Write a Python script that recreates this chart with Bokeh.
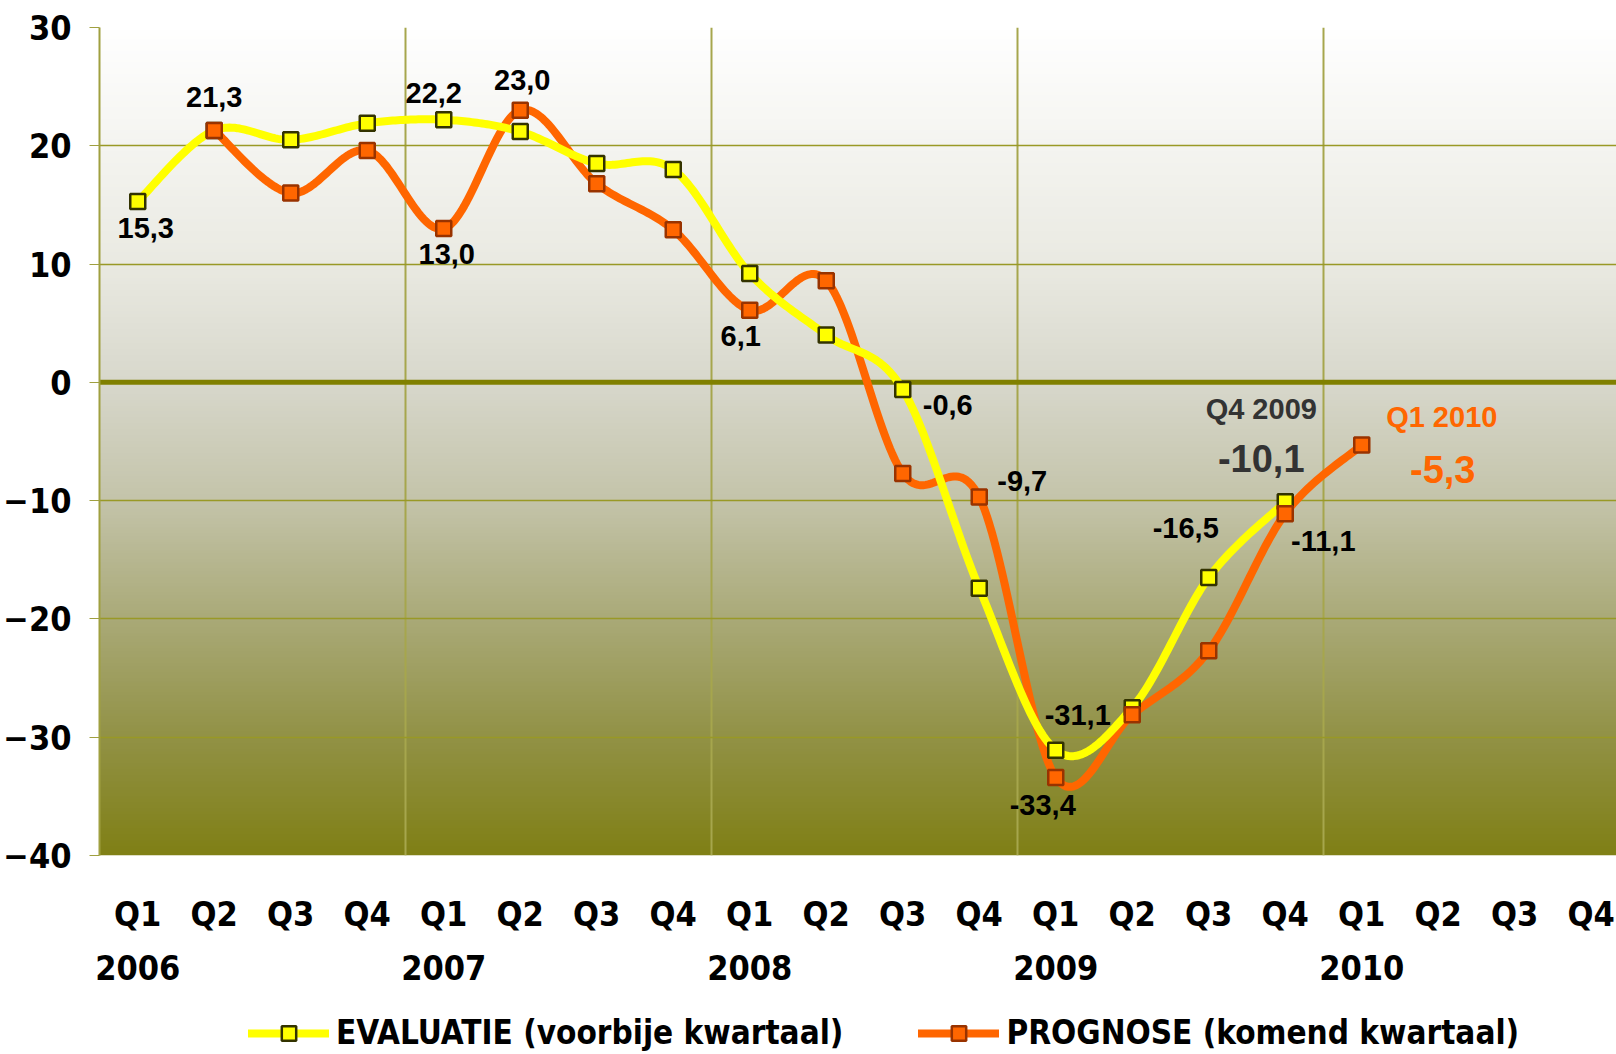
import numpy as np
from bokeh.plotting import figure
from bokeh.layouts import column
from bokeh.models import (Range1d, LinearAxis, FixedTicker, Legend, LegendItem,
                          ColumnDataSource, Span)
from bokeh.embed import file_html
from bokeh.resources import INLINE
from bokeh.core.properties import value

# ---------------- data ----------------
years = ["2006", "2007", "2008", "2009", "2010"]
quarters = ["Q1", "Q2", "Q3", "Q4"]
# EVALUATIE (voorbije kwartaal): Q1 2006 .. Q4 2009
evaluatie = [15.3, 21.3, 20.5, 21.9, 22.2, 21.2, 18.5, 18.0,
             9.2, 4.0, -0.6, -17.4, -31.1, -27.5, -16.5, -10.1]
evaluatie_start = 0
# PROGNOSE (komend kwartaal): Q2 2006 .. Q1 2010
prognose = [21.3, 16.0, 19.6, 13.0, 23.0, 16.8, 12.9, 6.1,
            8.6, -7.7, -9.7, -33.4, -28.1, -22.7, -11.1, -5.3]
prognose_start = 1
y_ticks = [-40, -30, -20, -10, 0, 10, 20, 30]
series_names = ["EVALUATIE (voorbije kwartaal)", "PROGNOSE (komend kwartaal)"]

# labelled points: (index in series, x offset px, y offset px)
eval_labels = [(0, 8, 27), (1, 0, -33), (4, -10, -27), (10, 45, 16), (12, 22, -35), (14, -23, -50)]
prog_labels = [(3, 3, 25), (4, 2, -30), (7, -9, 26), (10, 43, -16), (11, -13, 28), (14, 38, 27)]

OLIVE = "#808000"
GRID = "#999926"
YELLOW = "#FFFF00"
ORANGE = "#FF6600"
AXFONT = "DejaVu Sans Condensed"
AXSIZE = "34px"
LBLFONT = "Liberation Sans"
LBLSIZE = "29px"

n_cat = len(years) * len(quarters)
cat_labels = [q for y in years for q in quarters]
centers = [i + 0.5 for i in range(n_cat)]

def fmt(v):
    return f"{v:.1f}".replace(".", ",")

def smooth(xs, ys, n=30):
    P = np.column_stack([xs, ys]).astype(float)
    P = np.vstack([P[0], P, P[-1]])
    segs = []
    t = np.linspace(0, 1, n, endpoint=False)[:, None]
    for i in range(1, len(P) - 2):
        p0, p1, p2, p3 = P[i - 1], P[i], P[i + 1], P[i + 2]
        pts = 0.5 * (2 * p1 + (-p0 + p2) * t + (2 * p0 - 5 * p1 + 4 * p2 - p3) * t ** 2
                     + (-p0 + 3 * p1 - 3 * p2 + p3) * t ** 3)
        segs.append(pts)
    segs.append(P[-2][None, :])
    out = np.vstack(segs)
    return out[:, 0], out[:, 1]

ex = [centers[evaluatie_start + i] for i in range(len(evaluatie))]
px = [centers[prognose_start + i] for i in range(len(prognose))]
esx, esy = smooth(ex, evaluatie)
psx, psy = smooth(px, prognose)

# the last category runs slightly past the right edge of the picture
X_END = 19.83
MAIN_H = 1010
LEG_H = 44

p = figure(width=1616, height=MAIN_H, output_backend="svg", toolbar_location=None,
           x_range=Range1d(0, X_END), y_range=Range1d(-40, 30),
           min_border_left=98, min_border_right=0, min_border_top=27, min_border_bottom=155)
p.outline_line_color = None
p.background_fill_color = "white"
p.border_fill_color = "white"

# gradient background of the plot area
stops_v = [-40, -30, -20, -10, 0, 10, 30]
stops_c = [(128, 128, 22), (146, 146, 70), (170, 170, 120), (196, 196, 170),
           (216, 216, 204), (234, 234, 226), (255, 255, 255)]
N = 280
vv = np.linspace(-40, 30, N)
img = np.empty((N, 2), dtype=np.uint32)
view = img.view(dtype=np.uint8).reshape((N, 2, 4))
for k in range(3):
    ch = np.interp(vv, stops_v, [c[k] for c in stops_c])
    view[:, :, k] = ch[:, None].astype(np.uint8)
view[:, :, 3] = 255
p.image_rgba(image=[img], x=0, y=-40, dw=n_cat, dh=70, level="image")

# grids
p.ygrid.ticker = FixedTicker(ticks=y_ticks)
p.ygrid.grid_line_color = GRID
p.ygrid.grid_line_width = 1.5
p.xgrid.ticker = FixedTicker(ticks=[4, 8, 12, 16])
p.xgrid.grid_line_color = "#A6A64D"
p.xgrid.grid_line_width = 2

zero = Span(location=0, dimension="width", line_color=OLIVE, line_width=5, level="underlay")
p.add_layout(zero)

# y axis
p.yaxis.ticker = FixedTicker(ticks=y_ticks)
p.yaxis.axis_line_color = "#A0A040"
p.yaxis.axis_line_width = 2
p.yaxis.major_tick_line_color = "#A0A040"
p.yaxis.major_tick_out = 10
p.yaxis.major_tick_in = 0
p.yaxis.minor_tick_line_color = None
p.yaxis.major_label_standoff = 18
p.yaxis.major_label_text_font = AXFONT
p.yaxis.major_label_text_font_style = "bold"
p.yaxis.major_label_text_font_size = AXSIZE
p.yaxis.major_label_text_color = "black"

# x axis: quarters
xa = p.xaxis[0]
xa.ticker = FixedTicker(ticks=centers)
xa.major_label_overrides = {c: l for c, l in zip(centers, cat_labels)}
xa.axis_line_color = None
xa.major_tick_line_color = None
xa.minor_tick_line_color = None
xa.major_tick_out = 0
xa.major_tick_in = 0
xa.major_label_standoff = 38
xa.major_label_text_font = AXFONT
xa.major_label_text_font_style = "bold"
xa.major_label_text_font_size = AXSIZE
xa.major_label_text_color = "black"

# x axis: years
year_pos = [centers[i * 4] for i in range(len(years))]
ya = LinearAxis(ticker=FixedTicker(ticks=year_pos),
                major_label_overrides={c: y for c, y in zip(year_pos, years)})
ya.axis_line_color = None
ya.major_tick_line_color = None
ya.minor_tick_line_color = None
ya.major_tick_out = 0
ya.major_tick_in = 0
ya.major_label_standoff = 18
ya.major_label_text_font = AXFONT
ya.major_label_text_font_style = "bold"
ya.major_label_text_font_size = AXSIZE
ya.major_label_text_color = "black"
p.add_layout(ya, "below")

# series styles
y_line = dict(line_color=YELLOW, line_width=8, line_join="round", line_cap="round")
o_line = dict(line_color=ORANGE, line_width=8, line_join="round", line_cap="round")
y_mark = dict(marker="square", size=15, fill_color=YELLOW, line_color="#333300", line_width=2.5)
o_mark = dict(marker="square", size=15, fill_color=ORANGE, line_color="#993300", line_width=2.5)

p.line(psx, psy, **o_line)
p.line(esx, esy, **y_line)
p.scatter(ex, evaluatie, **y_mark)
p.scatter(px, prognose, **o_mark)

# data labels
lx, ly, lt, lox, loy = [], [], [], [], []
for (i, dx, dy) in eval_labels:
    lx.append(ex[i]); ly.append(evaluatie[i]); lt.append(fmt(evaluatie[i])); lox.append(dx); loy.append(dy)
for (i, dx, dy) in prog_labels:
    lx.append(px[i]); ly.append(prognose[i]); lt.append(fmt(prognose[i])); lox.append(dx); loy.append(dy)
lsrc = ColumnDataSource(dict(x=lx, y=ly, text=lt, xo=lox, yo=loy))
p.text(x="x", y="y", text="text", x_offset="xo", y_offset="yo", source=lsrc,
       text_font=value(LBLFONT), text_font_style="bold", text_font_size=LBLSIZE,
       text_color="black", text_align="center", text_baseline="middle")

# callouts: latest evaluation and latest forecast
ie = len(evaluatie) - 1
ci = evaluatie_start + ie
p.text(x=[ex[ie]], y=[evaluatie[ie]], text=[f"{cat_labels[ci]} {years[ci // 4]}"],
       x_offset=-24, y_offset=-93, text_font=value(LBLFONT), text_font_style="bold",
       text_font_size=LBLSIZE, text_color="#333333", text_align="center", text_baseline="middle")
p.text(x=[ex[ie]], y=[evaluatie[ie]], text=[fmt(evaluatie[ie])],
       x_offset=-24, y_offset=-43, text_font=value(LBLFONT), text_font_style="bold",
       text_font_size="38px", text_color="#333333", text_align="center", text_baseline="middle")
ip = len(prognose) - 1
cp = prognose_start + ip
p.text(x=[px[ip]], y=[prognose[ip]], text=[f"{cat_labels[cp]} {years[cp // 4]}"],
       x_offset=80, y_offset=-28, text_font=value(LBLFONT), text_font_style="bold",
       text_font_size=LBLSIZE, text_color=ORANGE, text_align="center", text_baseline="middle")
p.text(x=[px[ip]], y=[prognose[ip]], text=[fmt(prognose[ip])],
       x_offset=81, y_offset=24, text_font=value(LBLFONT), text_font_style="bold",
       text_font_size="38px", text_color=ORANGE, text_align="center", text_baseline="middle")

# ---------------- legend strip below the chart ----------------
# the strip holds copies of the two series far outside its visible range,
# so that only the legend keys show
lg = figure(width=1616, height=LEG_H, output_backend="svg", toolbar_location=None,
            x_range=Range1d(0, X_END), y_range=Range1d(1000, 1001),
            x_axis_location=None, y_axis_location=None,
            min_border_left=0, min_border_right=0, min_border_top=0, min_border_bottom=0)
lg.outline_line_color = None
lg.grid.visible = False
lg.background_fill_color = "white"
lg.border_fill_color = "white"
ly1 = lg.line(esx, esy, **y_line)
ls1 = lg.scatter(ex, evaluatie, **y_mark)
ly2 = lg.line(psx, psy, **o_line)
ls2 = lg.scatter(px, prognose, **o_mark)
legend = Legend(items=[LegendItem(label=series_names[0], renderers=[ly1, ls1]),
                       LegendItem(label=series_names[1], renderers=[ly2, ls2])],
                orientation="horizontal", location=(149, 2),
                glyph_width=81, glyph_height=36, spacing=75, label_standoff=7,
                label_text_font=AXFONT, label_text_font_style="bold",
                label_text_font_size="33px", label_text_color="black",
                border_line_color=None, background_fill_alpha=0, padding=0, margin=0)
lg.add_layout(legend)

layout = column(p, lg, spacing=0)
open("out.html", "w").write(file_html(layout, INLINE))
